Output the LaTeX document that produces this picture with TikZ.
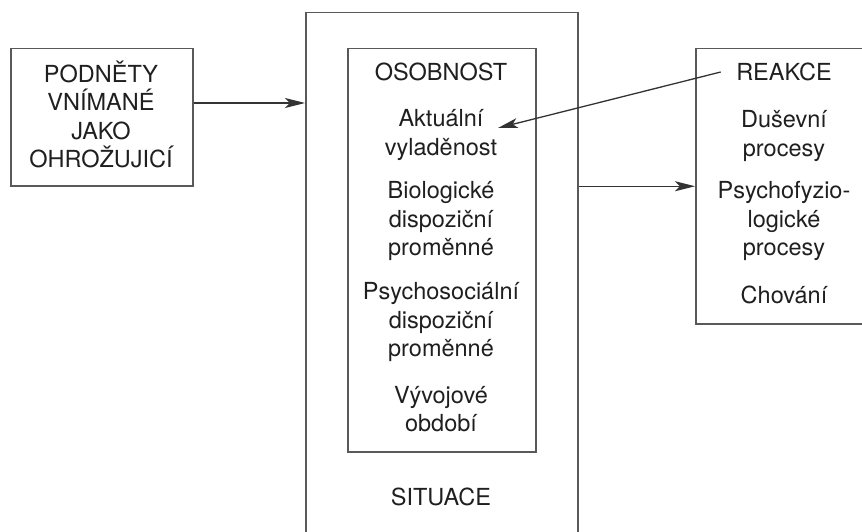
\documentclass[tikz,border=0pt]{standalone}
\usepackage{fontspec}
\setmainfont{TeX Gyre Heros}
\usetikzlibrary{arrows.meta,calc,positioning}

\begin{document}
\begin{tikzpicture}[x=1pt,y=-1pt,
		box/.style={draw=black!65,line width=1.5pt,anchor=north west,inner sep=0pt},
		txt/.style={text=black!88,align=center,font=\fontsize{23.5}{28.5}\selectfont},
		arr/.style={draw=black!80,line width=1.3pt,-{Stealth[length=20pt,width=10pt,inset=5pt]}}
		]
			\useasboundingbox (0,0) rectangle (862,532);
			% boxes
			\node[box,minimum width=182pt,minimum height=137pt] (podnety) at (10,48) {};
			\node[box,minimum width=272pt,minimum height=540pt] (situace) at (305,12) {};
			\node[box,minimum width=188pt,minimum height=403pt] (osobnost) at (347,48) {};
			\node[box,minimum width=180pt,minimum height=275pt] (reakce) at (695,48) {};
			% texts
			\node[txt] (podnetytxt) at (101,114.5) {PODNĚTY\\VNÍMANÉ\\JAKO\\OHROŽUJICÍ};
			\node[txt] (osobnosttxt) at (441,72) {OSOBNOST};
			\node[txt] (aktualni) at (441,135) {Aktuální\\vyladěnost};
			\node[txt] (biolog) at (441,221) {Biologické\\dispoziční\\proměnné};
			\node[txt] (psychosoc) at (441,322) {Psychosociální\\dispoziční\\proměnné};
			\node[txt] (vyvoj) at (441,409) {Vývojové\\období};
			\node[txt] (situacetxt) at (441,497) {SITUACE};
			\node[txt] (reakcetxt) at (784,72) {REAKCE};
			\node[txt] (dusevni) at (784,136) {Duševní\\procesy};
			\node[txt] (psychofyz) at (784,221) {Psychofyzio-\\logické\\procesy};
			\node[txt] (chovani) at (784,295) {Chování};
			% arrows
			\coordinate (vstup) at (192,103);
			\coordinate (zpet) at (498,128);
			\draw[arr] (podnety.east |- vstup) -- (situace.west |- vstup);
			\draw[arr] (reakce.west -| situace.east) -- (reakce.west);
			\draw[arr] ([xshift=-12pt]reakcetxt.west) -- (zpet);
		\end{tikzpicture}
\end{document}
